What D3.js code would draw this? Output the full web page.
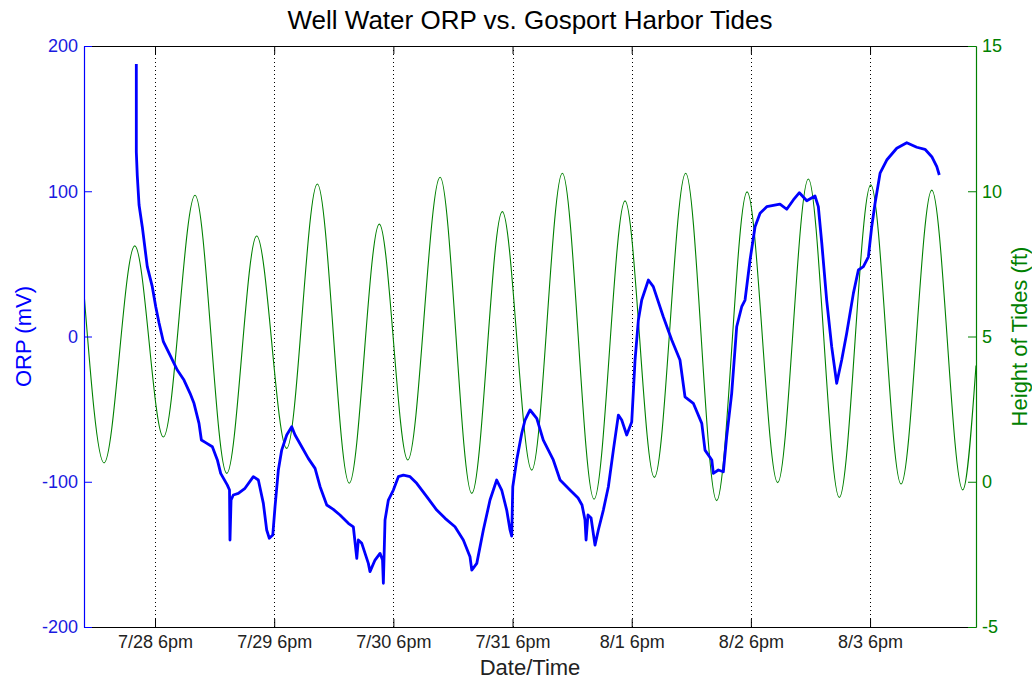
<!DOCTYPE html>
<html><head><meta charset="utf-8">
<script src="https://cdn.jsdelivr.net/npm/d3@7"></script>
<style>
body{margin:0;background:#fff}
svg{display:block;font-family:"Liberation Sans",Arial,Helvetica,sans-serif}
</style>
</head><body>
<svg id="chart" width="1032" height="681"></svg>
<script>
// ---- text ----
const titleText = "Well Water ORP vs. Gosport Harbor Tides";
const xLabelText = "Date/Time";
const leftLabelText = "ORP (mV)";
const rightLabelText = "Height of Tides (ft)";

// ---- axes data (days counted from 7/28 00:00) ----
const xDomainDays = [0.154, 7.639];
const xTickDays = [0.75, 1.75, 2.75, 3.75, 4.75, 5.75, 6.75];
const xTickLabels = ["7/28 6pm", "7/29 6pm", "7/30 6pm", "7/31 6pm", "8/1 6pm", "8/2 6pm", "8/3 6pm"];
const orpDomain = [-200, 200];
const orpTicks = [-200, -100, 0, 100, 200];
const orpTickLabels = ["-200", "-100", "0", "100", "200"];
const tideDomain = [-5, 15];
const tideTicks = [-5, 0, 5, 10, 15];
const tideTickLabels = ["-5", "0", "5", "10", "15"];

// ---- ORP series ----
const orpDays = [0.593,0.593,0.601,0.616,0.643,0.685,0.727,0.756,0.784,0.820,0.882,0.937,0.993,1.044,1.077,1.119,1.139,1.175,1.231,1.273,1.301,1.357,1.375,1.379,1.388,1.407,1.449,1.505,1.575,1.617,1.659,1.687,1.709,1.738,1.757,1.785,1.813,1.855,1.897,1.925,1.981,2.036,2.093,2.135,2.191,2.246,2.302,2.372,2.414,2.443,2.456,2.485,2.540,2.554,2.596,2.638,2.659,2.666,2.680,2.708,2.750,2.792,2.834,2.890,2.946,3.030,3.114,3.184,3.267,3.337,3.393,3.408,3.450,3.505,3.561,3.617,3.659,3.701,3.729,3.743,3.752,3.785,3.827,3.855,3.897,3.953,4.008,4.092,4.149,4.232,4.300,4.333,4.358,4.367,4.383,4.409,4.442,4.470,4.512,4.554,4.596,4.638,4.666,4.708,4.750,4.778,4.806,4.834,4.890,4.931,5.015,5.086,5.155,5.197,5.267,5.338,5.365,5.422,5.435,5.477,5.519,5.547,5.589,5.631,5.673,5.701,5.743,5.785,5.827,5.883,5.994,6.051,6.106,6.157,6.219,6.288,6.316,6.345,6.386,6.428,6.470,6.512,6.554,6.610,6.652,6.694,6.736,6.764,6.792,6.834,6.890,6.974,7.058,7.142,7.211,7.268,7.310,7.331];
const orpValues = [187.6,127.0,110.8,90.5,75.6,48.1,34.3,20.5,9.3,-3.6,-13.9,-23.1,-30.0,-39.1,-46.0,-59.8,-71.3,-73.1,-75.9,-85.0,-94.2,-102.3,-105.7,-140.1,-112.6,-109.1,-108.0,-104.5,-96.5,-98.8,-114.9,-133.2,-138.9,-136.7,-117.2,-91.9,-78.2,-67.8,-62.1,-67.8,-75.9,-83.9,-90.8,-103.4,-116.0,-119.0,-122.9,-128.6,-131.0,-152.7,-140.1,-142.4,-156.2,-161.9,-153.9,-149.3,-153.9,-169.9,-126.3,-112.6,-105.7,-96.5,-95.4,-96.5,-101.1,-110.3,-119.5,-125.2,-131.0,-140.1,-151.6,-160.8,-156.2,-133.2,-112.6,-98.8,-105.7,-119.5,-133.2,-137.4,-103.4,-85.0,-66.7,-57.5,-50.6,-56.3,-71.3,-85.0,-98.8,-105.7,-111.2,-116.0,-126.3,-140.1,-122.9,-125.0,-143.6,-133.2,-119.5,-103.4,-78.2,-54.1,-57.5,-67.8,-58.9,-16.2,11.4,25.1,38.9,34.3,13.6,-2.4,-16.2,-41.5,-46.0,-59.8,-78.2,-85.0,-94.2,-91.9,-93.1,-69.0,-39.1,6.7,20.5,25.1,52.7,75.6,84.8,89.4,91.2,87.6,94.0,99.0,93.5,96.7,89.4,64.2,25.1,-7.0,-32.2,-16.2,2.2,29.7,45.8,48.1,54.9,75.6,91.7,112.4,121.5,129.6,133.4,130.3,128.9,123.8,116.9,111.2];

// ---- Tide series (high / low waters) ----
const tideDays = [0.154,0.322,0.580,0.820,1.086,1.352,1.603,1.855,2.112,2.380,2.632,2.871,3.142,3.408,3.664,3.911,4.168,4.434,4.694,4.940,5.203,5.463,5.718,5.975,6.232,6.492,6.756,7.010,7.268,7.528,7.639];
const tideHeights = [6.50,0.65,8.12,1.54,9.86,0.29,8.46,1.15,10.25,-0.05,8.87,0.75,10.48,-0.40,9.30,0.40,10.62,-0.60,9.67,0.15,10.62,-0.65,9.98,-0.03,10.42,-0.54,10.22,-0.08,10.04,-0.28,4.00];

// ---- layout ----
const W = 1032, H = 681;
const L = 84, R = 976, T = 46, B = 627;
const BLUE = "#0000ff", GREEN = "#008000";
const base = Date.UTC(2009, 6, 28);
const toDate = d => new Date(base + d * 86400000);

const svg = d3.select("#chart");
svg.append("rect").attr("width", W).attr("height", H).attr("fill", "#fff");

const x = d3.scaleUtc().domain(xDomainDays.map(toDate)).range([L, R]);
const yL = d3.scaleLinear().domain(orpDomain).range([B, T]);
const yR = d3.scaleLinear().domain(tideDomain).range([B, T]);

svg.append("defs").append("clipPath").attr("id", "clip")
  .append("rect").attr("x", L).attr("y", T).attr("width", R - L).attr("height", B - T);

// dotted grid
svg.append("g").selectAll("line").data(xTickDays).join("line")
  .attr("x1", d => Math.round(x(toDate(d))) + 0.5).attr("x2", d => Math.round(x(toDate(d))) + 0.5)
  .attr("y1", T).attr("y2", B)
  .attr("stroke", "#000").attr("stroke-width", 1).attr("stroke-dasharray", "1,3");

// tide line
const tideData = tideDays.map((d, i) => [toDate(d), tideHeights[i]]);
svg.append("path").datum(tideData)
  .attr("clip-path", "url(#clip)")
  .attr("fill", "none").attr("stroke", GREEN).attr("stroke-width", 1.1)
  .attr("d", d3.line().x(d => x(d[0])).y(d => yR(d[1])).curve(d3.curveMonotoneX));

// ORP line
const orpData = orpDays.map((d, i) => [toDate(d), orpValues[i]]);
svg.append("path").datum(orpData)
  .attr("clip-path", "url(#clip)")
  .attr("fill", "none").attr("stroke", BLUE).attr("stroke-width", 2.8)
  .attr("stroke-linejoin", "round")
  .attr("d", d3.line().x(d => x(d[0])).y(d => yL(d[1])));

// bottom axis
const xTicks = xTickDays.map(toDate);
const gB = svg.append("g").attr("transform", `translate(0,${B})`)
  .call(d3.axisBottom(x).tickValues(xTicks).tickFormat((d, i) => xTickLabels[i])
    .tickSizeInner(-8).tickSizeOuter(0).tickPadding(8));
gB.select(".domain").attr("stroke", "#000");
gB.selectAll(".tick line").attr("stroke", "#000");
gB.selectAll("text").attr("fill", "#222").attr("font-size", 18);

// top axis (ticks only)
const gT = svg.append("g").attr("transform", `translate(0,${T})`)
  .call(d3.axisTop(x).tickValues(xTicks).tickFormat("").tickSizeInner(-8).tickSizeOuter(0));
gT.select(".domain").attr("stroke", "#000");
gT.selectAll(".tick line").attr("stroke", "#000");

// left axis
const gL = svg.append("g").attr("transform", `translate(${L},0)`)
  .call(d3.axisLeft(yL).tickValues(orpTicks).tickFormat((d, i) => orpTickLabels[i])
    .tickSizeInner(-8).tickSizeOuter(0).tickPadding(6));
gL.select(".domain").attr("stroke", BLUE);
gL.selectAll(".tick line").attr("stroke", BLUE);
gL.selectAll("text").attr("fill", "#1a1ae0").attr("font-size", 18);

// right axis
const gR = svg.append("g").attr("transform", `translate(${R},0)`)
  .call(d3.axisRight(yR).tickValues(tideTicks).tickFormat((d, i) => tideTickLabels[i])
    .tickSizeInner(-8).tickSizeOuter(0).tickPadding(6));
gR.select(".domain").attr("stroke", GREEN);
gR.selectAll(".tick line").attr("stroke", GREEN);
gR.selectAll("text").attr("fill", GREEN).attr("font-size", 18);

svg.selectAll(".domain").attr("stroke-width", 1.2);

// title and labels
svg.append("text").attr("x", (L + R) / 2).attr("y", 29).attr("text-anchor", "middle")
  .attr("font-size", 26).attr("fill", "#000").text(titleText);
svg.append("text").attr("x", (L + R) / 2).attr("y", 675).attr("text-anchor", "middle")
  .attr("font-size", 22).attr("fill", "#222").text(xLabelText);
svg.append("text").attr("transform", `translate(31,${(T + B) / 2}) rotate(-90)`)
  .attr("text-anchor", "middle").attr("font-size", 22).attr("fill", BLUE).text(leftLabelText);
svg.append("text").attr("transform", `translate(1027,${(T + B) / 2}) rotate(-90)`)
  .attr("text-anchor", "middle").attr("font-size", 22).attr("fill", GREEN).text(rightLabelText);
</script>
</body></html>
